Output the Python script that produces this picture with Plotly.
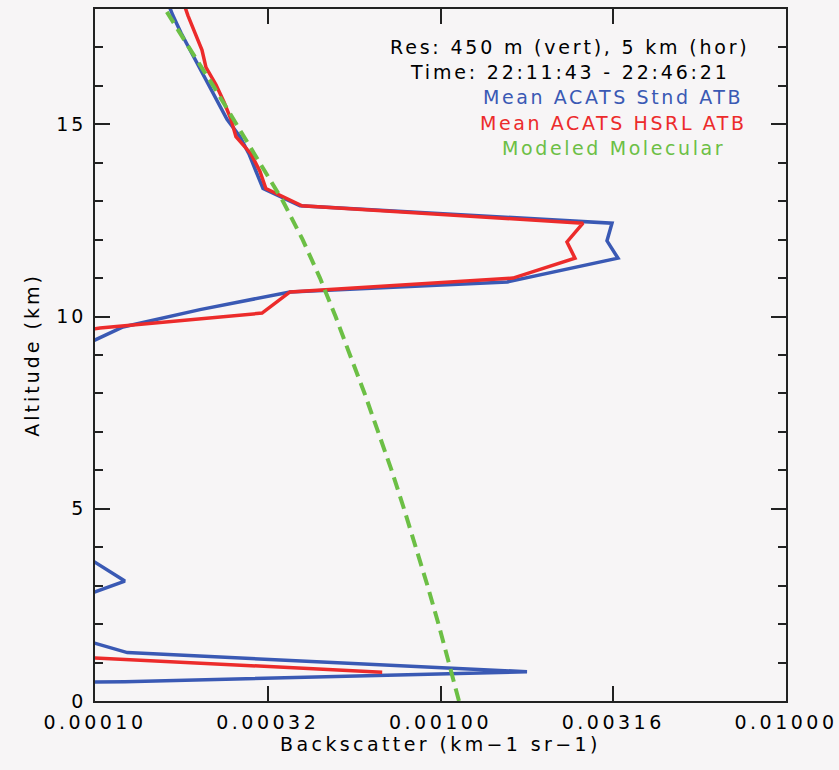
import plotly.graph_objects as go

# ---- data ----
stnd_alt = [18.28, 17.83, 17.38, 16.93, 16.48, 16.03, 15.58, 15.13, 14.68, 14.23,
            13.78, 13.33, 12.88, 12.43, 11.97, 11.52, 10.90, 10.64, 10.18, 9.73,
            9.28, 4.19, 3.12, 2.50, 1.71, 1.26, 0.76, 0.50, 0.30]
stnd_atb = [1.605e-4, 1.681e-4, 1.773e-4, 1.884e-4, 2.013e-4, 2.138e-4, 2.270e-4,
            2.410e-4, 2.628e-4, 2.790e-4, 2.924e-4, 3.064e-4, 3.920e-4, 3.136e-3,
            3.033e-3, 3.263e-3, 1.560e-3, 3.668e-4, 2.013e-4, 1.205e-4, 9.42e-5,
            7.9e-5, 1.22e-4, 7.9e-5, 8.3e-5, 1.24e-4, 1.78e-3, 1.22e-4, 1.0e-6]

hsrl_alt = [18.28, 17.83, 17.38, 16.93, 16.48, 16.03, 15.58, 15.13, 14.68, 14.23,
            13.78, 13.33, 12.88, 12.43, 11.94, 11.52, 11.00, 10.64, 10.09, 9.70,
            9.25, 1.20, 0.75]
hsrl_atb = [1.785e-4, 1.858e-4, 1.947e-4, 2.040e-4, 2.095e-4, 2.240e-4, 2.362e-4,
            2.475e-4, 2.558e-4, 2.828e-4, 3.001e-4, 3.123e-4, 3.972e-4, 2.585e-3,
            2.323e-3, 2.450e-3, 1.621e-3, 3.668e-4, 3.044e-4, 1.034e-4, 3.80e-5,
            6.5e-5, 6.78e-4]

mol_alt = [0, 1, 2, 3, 4, 5, 6, 7, 8, 9, 10, 11, 12, 13, 14, 15, 16, 17, 18]
mol_beta = [1.131e-3, 1.058e-3, 9.87e-4, 9.17e-4, 8.50e-4, 7.84e-4, 7.22e-4,
            6.61e-4, 6.03e-4, 5.47e-4, 4.97e-4, 4.48e-4, 3.99e-4, 3.50e-4,
            3.00e-4, 2.57e-4, 2.20e-4, 1.87e-4, 1.595e-4]

x_tickvals = [1e-4, 10 ** -3.5, 1e-3, 10 ** -2.5, 1e-2]
x_ticktext = ["0.00010", "0.00032", "0.00100", "0.00316", "0.01000"]
y_tickvals = [0, 5, 10, 15]
y_ticktext = ["0", "5", "10", "15"]

x_title = "Backscatter (km\u22121 sr\u22121)"
y_title = "Altitude (km)"
header_lines = ["Res: 450 m (vert), 5 km (hor)", "Time: 22:11:43 - 22:46:21"]
legend_lines = ["Mean ACATS Stnd ATB", "Mean ACATS HSRL ATB", "Modeled Molecular"]

BLUE = "#3a59b4"
RED = "#ec2b2b"
GREEN = "#6cbf45"
BG = "#f7f5f6"
FONT = "DejaVu Sans"


def spaced(s, sp):
    return '<span style="letter-spacing:%spx">%s</span>' % (sp, s)


fig = go.Figure()
fig.add_trace(go.Scatter(x=stnd_atb, y=stnd_alt, mode="lines",
                         line=dict(color=BLUE, width=3.5), hoverinfo="skip"))
fig.add_trace(go.Scatter(x=hsrl_atb, y=hsrl_alt, mode="lines",
                         line=dict(color=RED, width=3.5), hoverinfo="skip"))
fig.add_trace(go.Scatter(x=mol_beta, y=mol_alt, mode="lines",
                         line=dict(color=GREEN, width=4, dash="13px,7px"),
                         hoverinfo="skip"))

L, R, T, B = 95, 786, 9, 701
W, H = 839, 770


def px(xp):
    return (xp - L) / (R - L)


def py(yp):
    return (B - yp) / (B - T)


annots = []
for txt, yc in zip(header_lines, [47, 72]):
    annots.append(dict(text=spaced(txt, 2.8), x=px(570), y=py(yc), xref="paper",
                       yref="paper", showarrow=False, xanchor="center",
                       yanchor="middle",
                       font=dict(family=FONT, size=19, color="black")))
for txt, yc, col in zip(legend_lines, [97, 123, 148], [BLUE, RED, GREEN]):
    annots.append(dict(text=spaced(txt, 2.6), x=px(613), y=py(yc), xref="paper",
                       yref="paper", showarrow=False, xanchor="center",
                       yanchor="middle",
                       font=dict(family=FONT, size=19, color=col)))

fig.update_layout(
    width=W, height=H,
    margin=dict(l=L, r=W - R, t=T, b=H - B, autoexpand=False),
    paper_bgcolor=BG, plot_bgcolor=BG,
    showlegend=False,
    font=dict(family=FONT, size=19, color="black"),
    annotations=annots,
)
fig.update_xaxes(
    type="log", range=[-4, -2], automargin=False,
    tickvals=x_tickvals, ticktext=[spaced(t, 3.5) for t in x_ticktext],
    ticks="inside", ticklen=15, tickwidth=1.5, tickcolor="#222",
    showline=True, linecolor="#222", linewidth=1.5, mirror="ticks",
    showgrid=False, zeroline=False,
    tickfont=dict(family=FONT, size=19),
    ticklabelstandoff=3,
    title=dict(text=spaced(x_title, 3.4), standoff=4,
               font=dict(family=FONT, size=19)),
)
fig.update_yaxes(
    range=[0, 18], automargin=False,
    tickvals=y_tickvals, ticktext=[spaced(t, 3) for t in y_ticktext],
    ticks="inside", ticklen=15, tickwidth=1.5, tickcolor="#222",
    minor=dict(dtick=1, ticks="inside", ticklen=8, tickwidth=1.5, tickcolor="#222"),
    showline=True, linecolor="#222", linewidth=1.5, mirror="ticks",
    showgrid=False, zeroline=False,
    tickfont=dict(family=FONT, size=19),
    ticklabelstandoff=3,
    title=dict(text=spaced(y_title, 3), standoff=12, font=dict(family=FONT, size=19)),
)

fig.write_html("out.html")
